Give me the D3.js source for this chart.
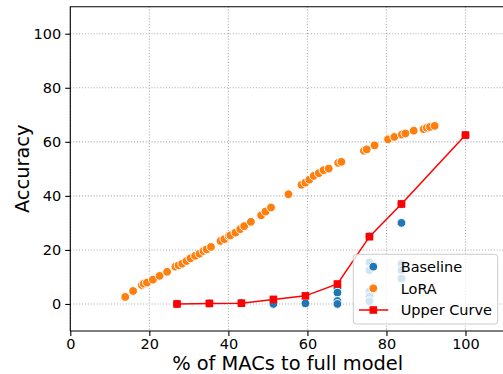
<!DOCTYPE html>
<html>
<head>
<meta charset="utf-8">
<script src="https://cdn.jsdelivr.net/npm/d3@7"></script>
<style>
  body { margin: 0; background: #fff; }
  svg { font-family: 'DejaVu Sans', sans-serif; }
</style>
</head>
<body>
<svg id="chart" width="503" height="374"></svg>
<script>
// data
const baselineX = [27, 35.2, 43.3, 51.4, 59.5, 67.6, 67.6, 67.6, 67.6, 75.7, 75.7, 75.7, 75.7, 75.7, 75.7, 83.8, 83.8, 83.8, 83.8, 83.8, 100];
const baselineY = [0, 0.2, 0.3, 0, 0.2, 5.8, 4.2, 1.1, 0, 25, 15.4, 12.5, 4.7, 2.8, 1.0, 37, 30, 14.8, 12.5, 9.4, 62.5];

const loraX = [13.9, 15.9, 18.1, 18.6, 19.4, 20.9, 22.6, 24.5, 26.6, 27.4, 28.3, 29.4, 30.4, 31.6, 32.7, 33.7, 34.5, 35.6,
  38.0, 39.0, 40.1, 40.5, 41.8, 43.0, 44.0, 45.7, 48.3, 49.4, 50.8, 55.2, 58.5, 59.5, 60.5, 61.6, 62.9, 64.1, 65.4,
  67.8, 68.6, 74.3, 75.0, 77.0, 80.4, 82.0, 83.9, 84.8, 86.9, 89.4, 90.2, 91.0, 92.2];
const loraY = [2.6, 4.8, 7.0, 7.5, 7.9, 9.0, 10.4, 11.9, 13.8, 14.3, 14.9, 15.9, 16.9, 17.8, 18.6, 19.6, 20.2, 21.1,
  23.3, 24.0, 25.2, 25.4, 26.4, 27.7, 28.8, 30.4, 32.8, 34.2, 35.7, 40.6, 44.1, 44.9, 46.0, 47.4, 48.4, 49.5, 50.1,
  52.2, 52.6, 56.7, 57.2, 58.7, 60.9, 61.8, 62.7, 63.1, 64.1, 64.7, 65.2, 65.5, 65.9];

const upperX = [27, 35.2, 43.3, 51.4, 59.5, 67.6, 75.7, 83.8, 100];
const upperY = [0, 0.2, 0.3, 1.7, 3.0, 7.4, 24.9, 37.0, 62.5];

const xTicks = [0, 20, 40, 60, 80, 100];
const yTicks = [0, 20, 40, 60, 80, 100];

const svg = d3.select('#chart');

const pLeft = 70.3, pRight = 505, pTop = 6.7, pBottom = 331;
const x = d3.scaleLinear().domain([0, 110]).range([pLeft, pRight]);
const y = d3.scaleLinear().domain([-10, 110]).range([pBottom, pTop]);

// grid
const grid = svg.append('g')
  .attr('stroke', '#b0b0b0')
  .attr('stroke-width', 1.1)
  .attr('stroke-dasharray', '1.1,1.8');
grid.selectAll('.gx').data(xTicks).enter().append('line')
  .attr('x1', d => x(d)).attr('x2', d => x(d))
  .attr('y1', pTop).attr('y2', pBottom);
grid.selectAll('.gy').data(yTicks).enter().append('line')
  .attr('x1', pLeft).attr('x2', pRight)
  .attr('y1', d => y(d)).attr('y2', d => y(d));

// baseline
const blue = '#1f77b4', orange = '#ff7f0e', red = '#ff0000';
svg.append('g').selectAll('circle')
  .data(baselineX.map((v, i) => [v, baselineY[i]]))
  .enter().append('circle')
    .attr('cx', d => x(d[0]))
    .attr('cy', d => y(d[1]))
    .attr('r', 4.4)
    .attr('fill', blue)
    .attr('stroke', '#fff')
    .attr('stroke-width', 1);

// lora
svg.append('g').selectAll('circle')
  .data(loraX.map((v, i) => [v, loraY[i]]))
  .enter().append('circle')
    .attr('cx', d => x(d[0]))
    .attr('cy', d => y(d[1]))
    .attr('r', 4.4)
    .attr('fill', orange)
    .attr('stroke', '#fff')
    .attr('stroke-width', 1);

// upper curve
const upper = upperX.map((v, i) => [v, upperY[i]]);
svg.append('path')
  .datum(upper)
  .attr('fill', 'none')
  .attr('stroke', red)
  .attr('stroke-width', 1.5)
  .attr('d', d3.line().x(d => x(d[0])).y(d => y(d[1])));
svg.append('g').selectAll('rect')
  .data(upper)
  .enter().append('rect')
    .attr('x', d => x(d[0]) - 3.8)
    .attr('y', d => y(d[1]) - 3.8)
    .attr('width', 7.6).attr('height', 7.6)
    .attr('fill', red);

// axes
const xAxis = svg.append('g')
  .attr('transform', `translate(0,${pBottom})`)
  .call(d3.axisBottom(x).tickValues(xTicks).tickSize(5).tickPadding(3));
const yAxis = svg.append('g')
  .attr('transform', `translate(${pLeft},0)`)
  .call(d3.axisLeft(y).tickValues(yTicks).tickSize(5).tickPadding(4));
[xAxis, yAxis].forEach(a => {
  a.select('.domain').remove();
  a.selectAll('text').attr('font-size', 14.5).attr('fill', '#000')
    .attr('font-family', "'DejaVu Sans', sans-serif");
  a.selectAll('line').attr('stroke', '#000').attr('stroke-width', 1.1);
});

// spines
svg.append('path')
  .attr('fill', 'none')
  .attr('stroke', '#000')
  .attr('stroke-width', 1.1)
  .attr('d', `M${pRight},${pTop}H${pLeft}V${pBottom}H${pRight}`);

// labels
svg.append('text')
  .attr('x', (pLeft + pRight) / 2).attr('y', 370)
  .attr('text-anchor', 'middle')
  .attr('font-size', 19.4)
  .text('% of MACs to full model');
svg.append('text')
  .attr('transform', `translate(29,${(pTop + pBottom) / 2}) rotate(-90)`)
  .attr('text-anchor', 'middle')
  .attr('font-size', 19.4)
  .text('Accuracy');

// legend
const lg = svg.append('g');
lg.append('rect')
  .attr('x', 353.3).attr('y', 254.3)
  .attr('width', 144.4).attr('height', 69.7)
  .attr('rx', 3)
  .attr('fill', '#fff').attr('fill-opacity', 0.8)
  .attr('stroke', '#cccccc').attr('stroke-width', 1);
const rows = [
  { label: 'Baseline', type: 'dot', color: blue, cy: 266.7 },
  { label: 'LoRA', type: 'dot', color: orange, cy: 288.3 },
  { label: 'Upper Curve', type: 'line', color: red, cy: 310 }
];
rows.forEach(r => {
  if (r.type === 'dot') {
    lg.append('circle').attr('cx', 373.3).attr('cy', r.cy).attr('r', 4.4)
      .attr('fill', r.color).attr('stroke', '#fff').attr('stroke-width', 1);
  } else {
    lg.append('line').attr('x1', 359).attr('x2', 388.3).attr('y1', r.cy).attr('y2', r.cy)
      .attr('stroke', r.color).attr('stroke-width', 1.5);
    lg.append('rect').attr('x', 373.3 - 3.8).attr('y', r.cy - 3.8)
      .attr('width', 7.6).attr('height', 7.6).attr('fill', r.color);
  }
  lg.append('text').attr('x', 400.7).attr('y', r.cy).attr('dy', '0.36em')
    .attr('font-size', 14.5).text(r.label);
});
</script>
</body>
</html>
